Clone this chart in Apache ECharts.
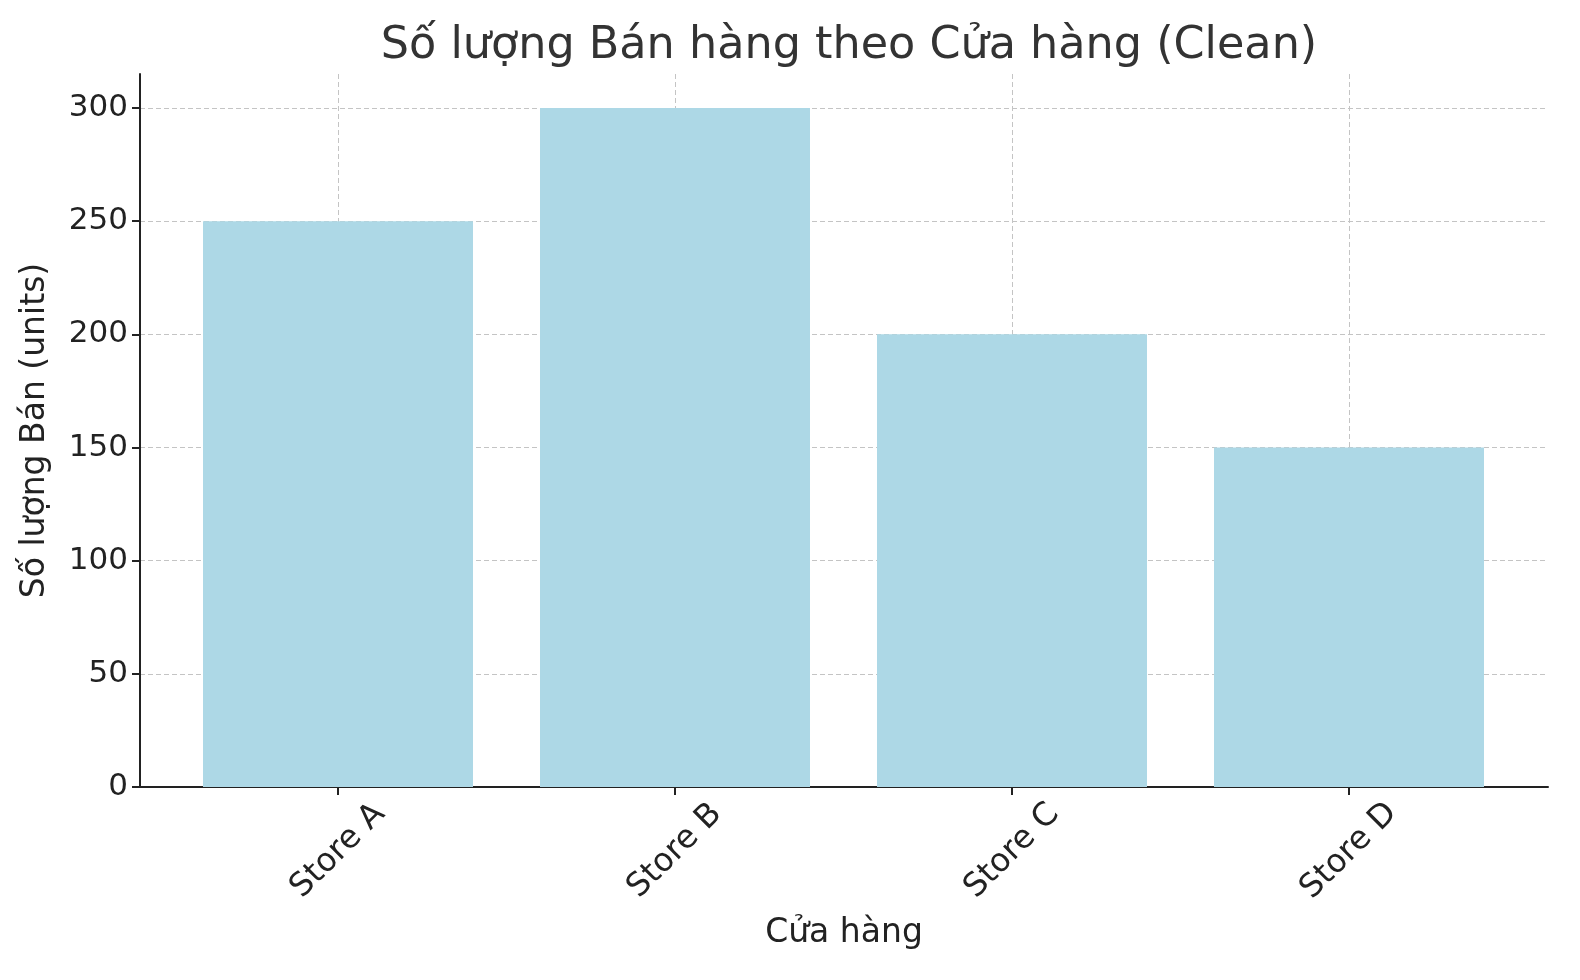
<!DOCTYPE html>
<html>
<head>
<meta charset="utf-8">
<script src="https://cdn.jsdelivr.net/npm/echarts@6/dist/echarts.min.js"></script>
<style>
  html, body { margin: 0; padding: 0; background: #fff; }
  #main { width: 1580px; height: 980px; }
</style>
</head>
<body>
<div id="main"></div>
<script>
var stores = ['Store A', 'Store B', 'Store C', 'Store D'];
var sales = [250, 300, 200, 150];
var yTicks = [0, 50, 100, 150, 200, 250, 300];

var font = 'DejaVu Sans';
var gridLine = { show: true, lineStyle: { color: '#c4c4c4', type: [5, 3], width: 1 } };

var chart = echarts.init(document.getElementById('main'));
chart.setOption({
    animation: false,
    title: {
        text: 'Số lượng Bán hàng theo Cửa hàng (Clean)',
        left: 844,
        textAlign: 'center',
        top: 19,
        textStyle: { fontFamily: font, fontSize: 44.5, fontWeight: 'normal', color: '#333' }
    },
    grid: [
        // frame: y axis, horizontal grid lines, bottom axis line
        { left: 140, right: 32, top: 74, bottom: 193 },
        // bars: category centers at the ends of this grid
        { left: 338, right: 231, top: 74, bottom: 193 }
    ],
    xAxis: [
        {
            gridIndex: 0, type: 'value', min: 0, max: 1,
            axisLine: { show: true, lineStyle: { color: '#222', width: 2 } },
            axisTick: { show: false }, axisLabel: { show: false }, splitLine: { show: false },
            name: 'Cửa hàng', nameLocation: 'middle', nameGap: 130,
            nameTextStyle: { fontFamily: font, fontSize: 33, color: '#222' }
        },
        {
            gridIndex: 1, type: 'category', data: stores, boundaryGap: false,
            axisLine: { show: false },
            axisTick: { show: true, length: 8, lineStyle: { color: '#222', width: 2 } },
            axisLabel: {
                rotate: 45, margin: 64, align: 'center', verticalAlign: 'middle',
                fontFamily: font, fontSize: 32.5, color: '#222'
            },
            splitLine: gridLine
        }
    ],
    yAxis: [
        {
            gridIndex: 0, type: 'value', min: 0, max: 315, interval: 50,
            axisLine: { show: true, lineStyle: { color: '#222', width: 2 } },
            axisTick: { show: true, length: 8, lineStyle: { color: '#222', width: 2 } },
            axisLabel: {
                margin: 12, fontFamily: font, fontSize: 31, color: '#222',
                showMaxLabel: false,
                formatter: function (v) { return yTicks.indexOf(v) >= 0 ? String(v) : ''; }
            },
            splitLine: { show: true, showMinLine: false, showMaxLine: false,
                lineStyle: { color: '#c4c4c4', type: [5, 3], width: 1 } },
            name: 'Số lượng Bán (units)', nameLocation: 'middle', nameGap: 88,
            nameTextStyle: { fontFamily: font, fontSize: 33, color: '#222' }
        },
        {
            gridIndex: 1, type: 'value', min: 0, max: 315, show: false
        }
    ],
    series: [
        {
            type: 'bar',
            xAxisIndex: 1, yAxisIndex: 1,
            data: sales,
            barWidth: 270,
            clip: false,
            itemStyle: { color: '#add8e6' },
            z: 1
        }
    ]
});
</script>
</body>
</html>
